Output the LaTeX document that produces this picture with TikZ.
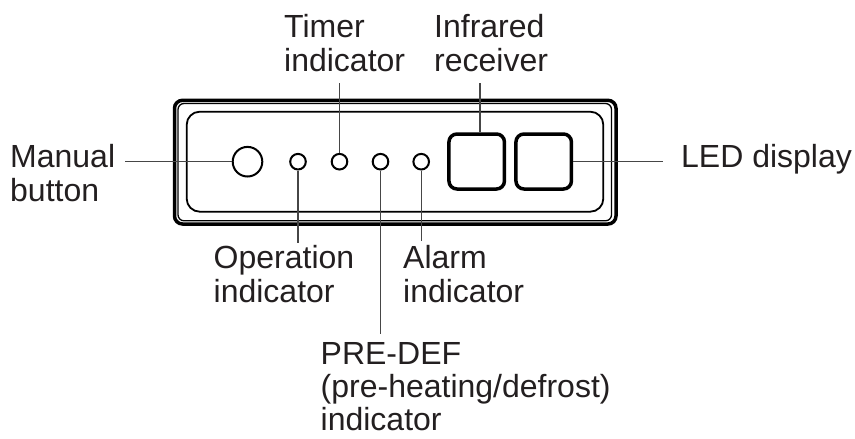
\documentclass[tikz,border=0pt]{standalone}
\usepackage{fontspec}
\setmainfont{Liberation Sans}
\usepackage{tikz}
\usetikzlibrary{positioning,calc}
\definecolor{inkGray}{RGB}{35,31,32}
\definecolor{leadGray}{RGB}{70,70,70}

\begin{document}
\begin{tikzpicture}[
        x=1pt, y=-1pt,
        every node/.style={font=\fontsize{32}{34}\selectfont, text=inkGray},
        lbl/.style={anchor=north west, inner sep=0pt, align=left},
        lamp/.style={draw=black, circle, inner sep=0pt, line width=2pt, minimum size=15.6pt},
        pad/.style={draw=black, rectangle, rounded corners=8pt, line width=3.5pt,
                    minimum width=55.5pt, minimum height=55pt, inner sep=0pt},
        lead/.style={draw=leadGray, line width=1.1pt}
      ]
        \useasboundingbox (0,0) rectangle (855,439);
        % Housing outline
        \draw[line width=3.5pt, rounded corners=8pt] (174.5,100.3) rectangle (616,224);
        \draw[line width=1.3pt, rounded corners=6pt] (178,103.5) rectangle (611.5,220.8);
        % Front panel
        \draw[line width=1.8pt, rounded corners=13pt] (186.7,111.7) rectangle (603.3,211.7);
        % Button, indicator lamps and windows
        \node[lamp, minimum size=29.6pt] (btn) at (247.5,161.7) {};
        \node[lamp] (opl) at (298,161.7) {};
        \node[lamp] (tml) at (339.5,161.7) {};
        \node[lamp] (pdl) at (380.5,161.7) {};
        \node[lamp] (all) at (421.2,161.7) {};
        \node[pad] (irw) at (476.7,161.5) {};
        \node[pad] (led) at (543.7,161.5) {};
        % Labels
        \node[lbl] (mbl) at (10,144) {Manual\\button};
        \node[lbl] (tml-t) at (284,14) {Timer\\indicator};
        \node[lbl] (irl-t) at (434,14) {Infrared\\receiver};
        \node[lbl] (ledl-t) at (681,144) {LED display};
        \node[lbl] (opl-t) at (213.5,245) {Operation\\indicator};
        \node[lbl] (all-t) at (403,245) {Alarm\\indicator};
        \node[lbl, font=\fontsize{32}{33}\selectfont, text depth=0pt]
          (pdl-t) at (320.5,342) {PRE-DEF\\(pre-heating/defrost)\\indicator};
        % Leader ends
        \coordinate (mbEnd) at (125,161.7);
        \coordinate (tmEnd) at (339.5,83);
        \coordinate (irEnd) at (480,83);
        \coordinate (ledEnd) at (663,161.5);
        \coordinate (opEnd) at (298,243);
        \coordinate (pdEnd) at (380.5,334);
        \coordinate (alEnd) at (421.2,240.5);
        % Leaders
        \draw[lead] (mbEnd) -- (btn.west);
        \draw[lead] (tmEnd) -- (tml.north);
        \draw[lead] (irEnd) -- (irEnd |- irw.north);
        \draw[lead] (led.east) -- (ledEnd);
        \draw[lead] (opl.south) -- (opEnd);
        \draw[lead] (pdl.south) -- (pdEnd);
        \draw[lead] (all.south) -- (alEnd);
      \end{tikzpicture}
\end{document}
